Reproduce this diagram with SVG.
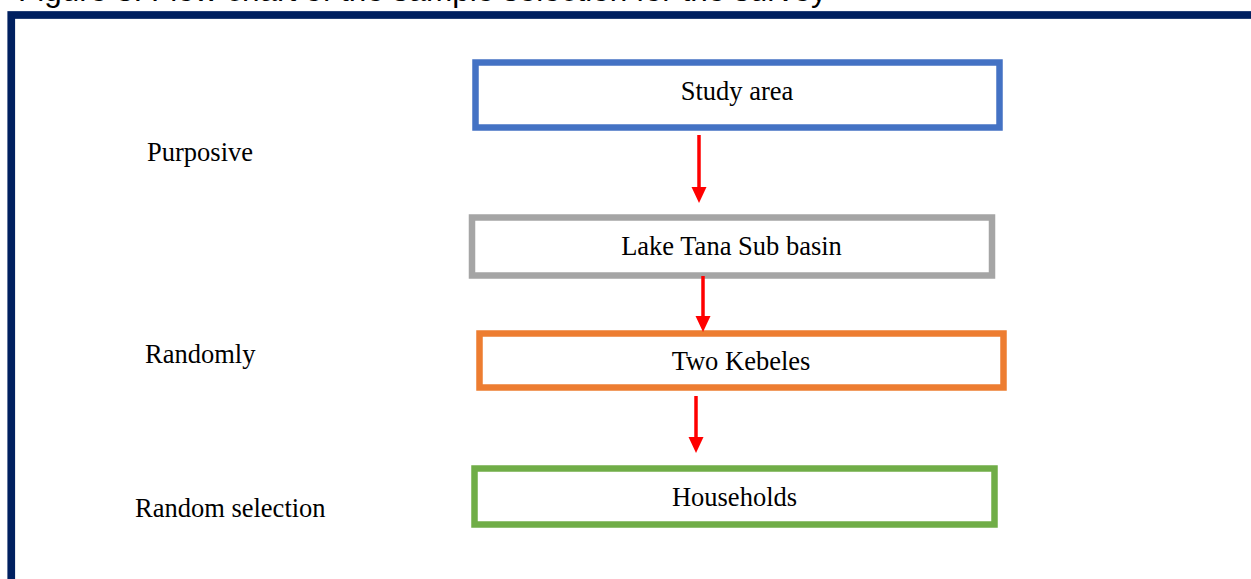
<svg xmlns="http://www.w3.org/2000/svg" width="1251" height="579" viewBox="0 0 1251 579">
  <style>
    .box { fill: #ffffff; stroke-width: 6.5; }
    .lbl { font-family: "Liberation Serif", "Times New Roman", serif; font-size: 26.5px; fill: #000000; }
    .mid { text-anchor: middle; }
    .cap { font-family: "Liberation Sans", Arial, sans-serif; font-size: 31.5px; fill: #000000; }
    .conn { stroke: #ff0000; stroke-width: 3.5; fill: none; }
  </style>
  <defs>
    <marker id="head" markerUnits="userSpaceOnUse" markerWidth="16" markerHeight="15" refX="0" refY="7.5" orient="auto" overflow="visible">
      <path d="M0,0 L16,7.5 L0,15 Z" fill="#ff0000"/>
    </marker>
  </defs>

  <rect x="0" y="0" width="1251" height="579" fill="#ffffff"/>

  <!-- figure caption, cropped at the top edge -->
  <text class="cap" x="18" y="1">Figure 3: Flow chart of the sample selection for the survey</text>

  <!-- outer frame -->
  <rect x="11.25" y="15" width="1300" height="700" fill="none" stroke="#002060" stroke-width="7.7"/>

  <!-- sampling method labels -->
  <g id="labels">
    <text class="lbl" x="147" y="161">Purposive</text>
    <text class="lbl" x="145" y="363">Randomly</text>
    <text class="lbl" x="135" y="517">Random selection</text>
  </g>

  <g id="study-area">
    <rect class="box" x="475.5" y="62.5" width="524" height="65" stroke="#4472c4"/>
    <text class="lbl mid" x="737" y="100">Study area</text>
  </g>

  <g id="lake-tana">
    <rect class="box" x="472" y="217.5" width="520" height="58" stroke="#a5a5a5"/>
    <text class="lbl mid" x="731.5" y="255">Lake Tana Sub basin</text>
  </g>

  <g id="two-kebeles">
    <rect class="box" x="479.5" y="333.5" width="524" height="54" stroke="#ed7d31"/>
    <text class="lbl mid" x="741" y="370">Two Kebeles</text>
  </g>

  <g id="households">
    <rect class="box" x="474.5" y="468.5" width="520" height="56" stroke="#70ad47"/>
    <text class="lbl mid" x="734.5" y="506">Households</text>
  </g>

  <g id="connectors">
    <line class="conn" x1="699" y1="135" x2="699" y2="187" marker-end="url(#head)"/>
    <line class="conn" x1="703" y1="276" x2="703" y2="316" marker-end="url(#head)"/>
    <line class="conn" x1="696" y1="396" x2="696" y2="437" marker-end="url(#head)"/>
  </g>
</svg>
